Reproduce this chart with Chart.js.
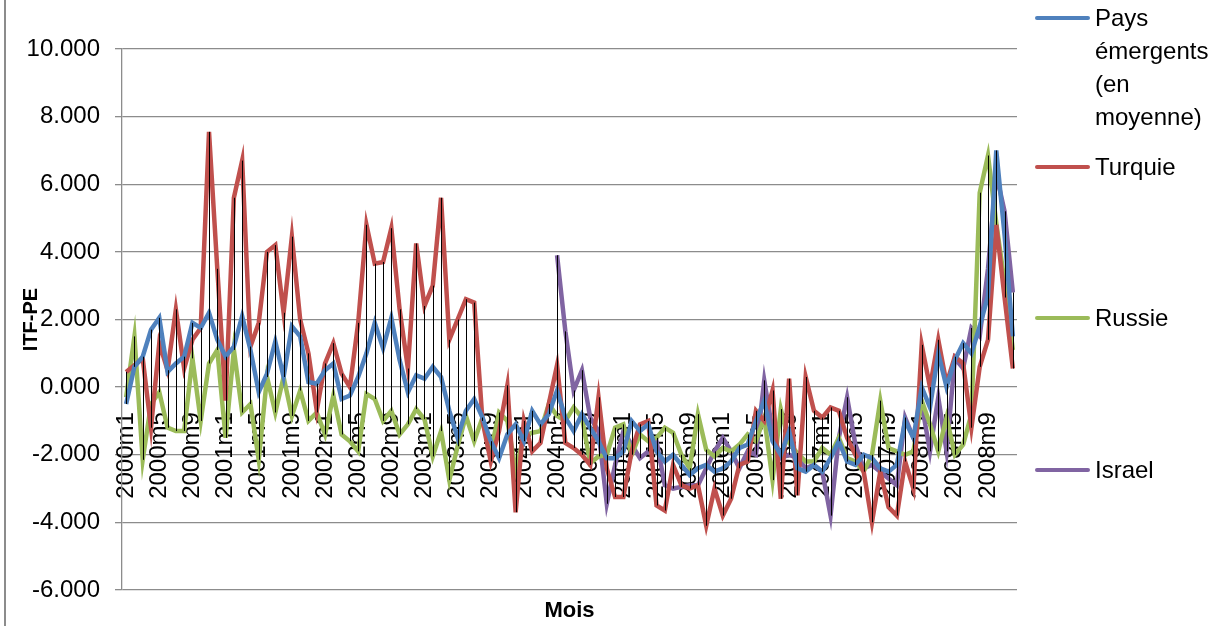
<!DOCTYPE html>
<html>
<head>
<meta charset="utf-8">
<script src="https://cdn.jsdelivr.net/npm/chart.js@4.4.1/dist/chart.umd.min.js"></script>
<style>
    html, body { margin: 0; padding: 0; background: #fff; }
    #wrap { position: relative; width: 1223px; height: 626px; overflow: hidden; font-family: "Liberation Sans", Arial, sans-serif; }
    #wrap canvas { position: absolute; left: 0; top: 0; }
    .edge { position: absolute; left: 4px; top: 0; width: 2px; height: 626px; background: #8c8c8c; }
    .legend-item { position: absolute; left: 1035px; font-size: 24px; line-height: 33px; color: #000; }
    .legend-item .swatch { position: absolute; left: 0; top: 15px; width: 55px; height: 4px; border-radius: 2px; }
    .legend-item .txt { position: absolute; left: 60px; top: 0; white-space: nowrap; }
    #xtitle { position: absolute; left: 122px; width: 895px; top: 596px; text-align: center; font-weight: bold; font-size: 22px; line-height: 28px; }
</style>
</head>
<body>
<div id="wrap">
    <canvas id="chart" width="1223" height="626"></canvas>
    <div class="edge"></div>
    <div class="legend-item" style="top:1px"><div class="swatch" style="background:#4F81BD"></div><div class="txt">Pays<br>émergents<br>(en<br>moyenne)</div></div>
    <div class="legend-item" style="top:150px"><div class="swatch" style="background:#C0504D"></div><div class="txt">Turquie</div></div>
    <div class="legend-item" style="top:301px"><div class="swatch" style="background:#9BBB59"></div><div class="txt">Russie</div></div>
    <div class="legend-item" style="top:453px"><div class="swatch" style="background:#8064A2"></div><div class="txt">Israel</div></div>
    <div id="xtitle">Mois</div>
</div>
<script>
// Categories: monthly, 2000m1 .. 2008m12
const years = [2000, 2001, 2002, 2003, 2004, 2005, 2006, 2007, 2008];
const monthNums = [1, 2, 3, 4, 5, 6, 7, 8, 9, 10, 11, 12];
const months = [];
years.forEach(y => monthNums.forEach(m => months.push(y + 'm' + m)));

const yTicks = [-6, -4, -2, 0, 2, 4, 6, 8, 10];

// Pays émergents (en moyenne)
const emergents = [
    -0.5, 0.6, 0.9, 1.7, 2.05, 0.45, 0.7, 0.9, 1.9, 1.75, 2.2, 1.4,
    0.9, 1.2, 2.1, 1.1, -0.15, 0.4, 1.35, 0.3, 1.8, 1.5, 0.15, 0.1,
    0.5, 0.7, -0.35, -0.25, 0.3, 1.0, 1.9, 1.15, 2.05, 0.8, -0.15, 0.35,
    0.25, 0.6, 0.3, -0.7, -1.5, -0.7, -0.35, -0.9, -1.6, -2.1, -1.4, -1.1,
    -1.6, -0.7, -1.1, -0.8, -0.1, -0.9, -1.3, -0.8, -1.2, -1.6, -2.1, -2.1,
    -1.9, -1.0, -1.3, -1.1, -1.9, -2.2, -2.0, -2.3, -2.6, -2.4, -2.3, -2.5,
    -2.4, -2.2, -1.8, -1.7, -1.0, -0.4, -1.6, -2.0, -1.3, -2.4, -2.5, -2.3,
    -2.5, -2.1, -1.6, -2.2, -2.3, -2.0, -2.1, -2.4, -2.5, -2.3, -1.0, -1.5,
    0.0, -0.6, 1.0, 0.0, 0.8, 1.3, 1.0, 1.8, 2.7, 7.0, 4.5, 1.5
];

const turquie = [
    0.45, 0.65, 0.85, -1.2, 1.3, 0.5, 2.3, 0.55, 1.4, 1.75, 7.55, 3.5,
    -0.4, 5.6, 6.7, 1.2, 1.9, 4.0, 4.2, 2.2, 4.45, 2.0, 1.0, -0.7,
    0.7, 1.3, 0.4, 0.0, 1.9, 4.8, 3.65, 3.7, 4.7, 2.3, 0.55, 4.25,
    2.4, 3.0, 5.6, 1.4, 2.0, 2.6, 2.5, -1.0, -2.2, -1.3, 0.05, -3.7,
    -1.0, -1.9, -1.65, -0.5, 0.65, -1.65, -1.8, -2.0, -2.3, -0.3, -2.4, -3.25,
    -3.25, -1.9, -1.1, -1.0, -3.5, -3.65, -2.3, -2.9, -3.0, -2.9, -4.1, -3.0,
    -3.8, -3.3, -2.3, -2.2, -0.7, -1.0, -0.1, -3.3, 0.25, -3.2, 0.3, -0.7,
    -0.9, -0.6, -0.7, -1.5, -2.0, -2.5, -4.0, -2.5, -3.55, -3.8, -2.2, -3.0,
    1.25, 0.0, 1.4, 0.1, 0.9, 0.7, -1.2, 0.6, 1.4, 4.8, 2.65, 0.55
];

const russie = [
    -0.3, 1.5, -2.15, -0.5, -0.15, -1.2, -1.3, -1.3, 0.85, -1.0, 0.7, 1.1,
    -1.5, 1.1, -0.75, -0.5, -2.15, 0.3, -0.75, 0.3, -0.85, -0.1, -1.0, -0.75,
    -1.4, -0.25, -1.4, -1.6, -1.9, -0.2, -0.35, -1.0, -0.7, -1.4, -1.1, -0.65,
    -0.95, -2.05, -1.3, -2.75, -1.75, -0.85, -1.6, -0.9, -1.9, -0.75, -1.0, -2.45,
    -1.45, -1.35, -1.3, -0.5, -0.85, -1.0, -0.6, -0.9, -2.25, -2.05, -2.0, -1.2,
    -1.1, -2.0, -1.4, -1.6, -1.5, -1.2, -1.35, -2.0, -2.4, -0.8, -1.85, -2.05,
    -1.8, -1.9, -1.7, -1.4, -1.6, -0.9, -2.75, -0.65, -1.65, -1.95, -2.2, -2.2,
    -1.8, -2.0, -1.5, -2.1, -2.2, -2.5, -2.0, -0.4, -1.8, -1.9, -2.0, -1.9,
    -0.4, -1.1, -1.9, -0.9, -2.0, -1.7, -0.8, 5.75, 6.85, 4.85, 3.1, 1.1
];

// Israel: series starts at 2004m5
const israel = [
    null, null, null, null, null, null, null, null, null, null, null, null,
    null, null, null, null, null, null, null, null, null, null, null, null,
    null, null, null, null, null, null, null, null, null, null, null, null,
    null, null, null, null, null, null, null, null, null, null, null, null,
    null, null, null, null, 3.9, 1.65, -0.1, 0.5, -0.9, -1.3, -3.45, -2.3,
    -1.3, -1.7, -2.1, -1.9, -1.6, -2.9, -3.0, -2.95, -2.9, -2.9, -2.4, -1.9,
    -1.5, -1.9, -2.4, -1.9, -2.0, 0.2, -1.3, -2.1, -2.0, -2.1, -2.4, -2.3,
    -2.5, -3.8, -1.5, -0.3, -1.7, -2.4, -2.3, -2.5, -2.7, -2.9, -0.9, -1.5,
    -0.5, -1.9, -0.3, -1.9, 0.85, 0.55, 1.75, 1.5, 3.5, 6.3, 5.2, 2.8
];

// Excel style high-low lines: black stroke from lowest to highest series at each month
const highLowLines = {
    id: 'highLowLines',
    afterDatasetsDraw(chart) {
        const ctx = chart.ctx;
        const metas = chart.data.datasets.map((ds, k) => chart.getDatasetMeta(k));
        ctx.save();
        ctx.strokeStyle = '#000';
        ctx.lineWidth = 1;
        for (let i = 0; i < chart.data.labels.length; i++) {
            let lo = Infinity, hi = -Infinity, x = null;
            chart.data.datasets.forEach((ds, k) => {
                if (ds.data[i] === null) return;
                const p = metas[k].data[i];
                x = p.x;
                lo = Math.min(lo, p.y);
                hi = Math.max(hi, p.y);
            });
            if (x === null) continue;
            const px = Math.round(x) + 0.5;
            ctx.beginPath();
            ctx.moveTo(px, lo);
            ctx.lineTo(px, hi);
            ctx.stroke();
        }
        ctx.restore();
    }
};

const line = (label, data, color) => ({
    label: label,
    data: data,
    borderColor: color,
    backgroundColor: color,
    borderWidth: 4.5,
    pointRadius: 0,
    tension: 0,
    spanGaps: false
});

new Chart(document.getElementById('chart'), {
    type: 'line',
    data: {
        labels: months,
        datasets: [
            line('Pays émergents (en moyenne)', emergents, '#4F81BD'),
            line('Turquie', turquie, '#C0504D'),
            line('Russie', russie, '#9BBB59'),
            line('Israel', israel, '#8064A2')
        ]
    },
    plugins: [highLowLines],
    options: {
        responsive: false,
        animation: false,
        layout: { padding: { left: 0, right: 206, top: 49, bottom: 36 } },
        plugins: {
            legend: { display: false },
            tooltip: { enabled: false }
        },
        scales: {
            x: {
                type: 'category',
                position: { y: 0 },
                offset: true,
                grid: { display: false, drawTicks: false },
                border: { display: false },
                ticks: {
                    autoSkip: false,
                    minRotation: 90,
                    maxRotation: 90,
                    padding: 25,
                    color: '#000',
                    font: { family: '"Liberation Sans", Arial, sans-serif', size: 24 },
                    callback: (val, idx) => idx % 4 === 0 ? months[idx] : ''
                }
            },
            y: {
                min: yTicks[0],
                max: yTicks[yTicks.length - 1],
                afterFit: (scale) => { scale.width = 122; },
                afterBuildTicks: (scale) => { scale.ticks = yTicks.map(v => ({ value: v })); },
                grid: { color: '#8c8c8c', lineWidth: 1.3, drawTicks: true, tickLength: 7 },
                border: { display: true, color: '#8c8c8c', width: 1.3 },
                ticks: {
                    padding: 15,
                    color: '#000',
                    font: { family: '"Liberation Sans", Arial, sans-serif', size: 24 },
                    callback: (v) => Number(v).toFixed(3)
                },
                title: {
                    display: true,
                    text: 'ITF-PE',
                    color: '#000',
                    padding: { top: 19, bottom: 0 },
                    font: { family: '"Liberation Sans", Arial, sans-serif', size: 20, weight: 'bold' }
                }
            }
        }
    }
});
</script>
</body>
</html>
